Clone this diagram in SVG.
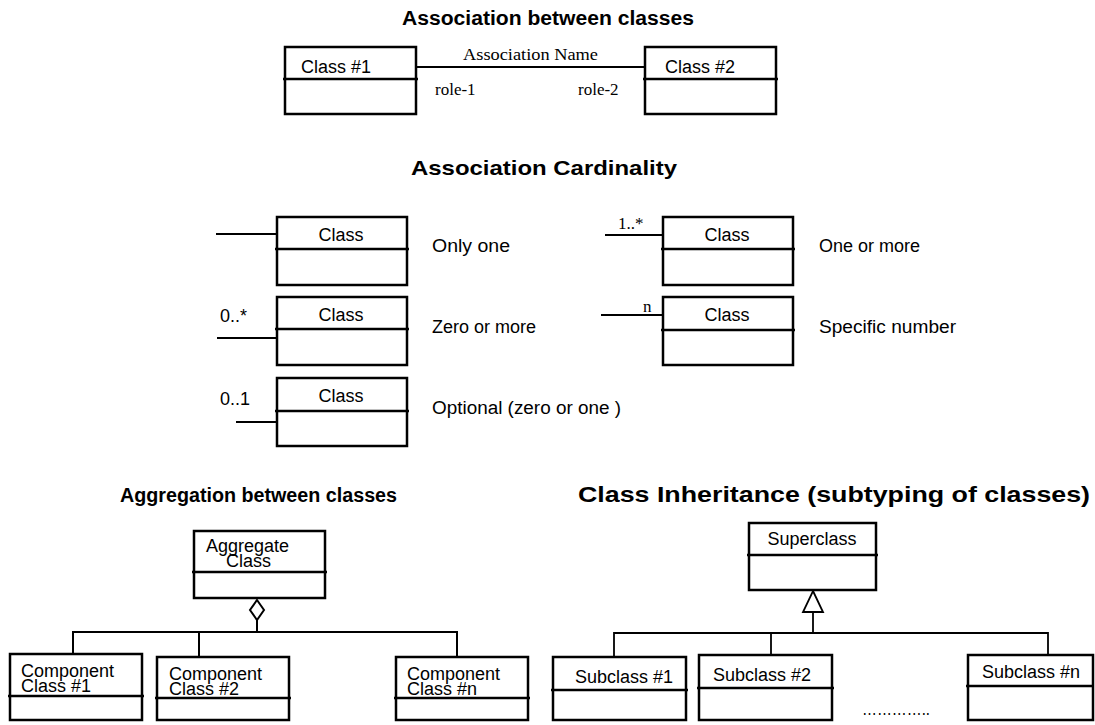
<svg xmlns="http://www.w3.org/2000/svg" width="1095" height="725" viewBox="0 0 1095 725">
<style>
.box{fill:#fff;stroke:#000;stroke-width:2.5}
.div{stroke:#000;stroke-width:2.5}
.ln{stroke:#000;stroke-width:2;fill:none}
.thin{stroke:#000;stroke-width:1.8;fill:none}
.t{font-family:"Liberation Sans",Arial,sans-serif;font-size:18px;fill:#000}
.s{font-family:"Liberation Serif","Times New Roman",serif;font-size:17px;fill:#000}
.h{font-family:"Liberation Sans",Arial,sans-serif;font-size:20px;font-weight:bold;fill:#000}
.m{text-anchor:middle}
</style>
<rect width="1095" height="725" fill="#fff"/>
<text class="h" x="402" y="25" textLength="292" lengthAdjust="spacingAndGlyphs">Association between classes</text>
<text class="h" x="411" y="175" style="font-size:21px" textLength="266" lengthAdjust="spacingAndGlyphs">Association Cardinality</text>
<text class="h" x="120" y="502" textLength="277" lengthAdjust="spacingAndGlyphs">Aggregation between classes</text>
<text class="h" x="578" y="502" style="font-size:22px" textLength="512" lengthAdjust="spacingAndGlyphs">Class Inheritance (subtyping of classes)</text>

<g id="connectors">
<line class="ln" x1="416" y1="67" x2="645" y2="67"/>
<line class="ln" x1="216" y1="234" x2="277" y2="234"/>
<line class="ln" x1="217" y1="338" x2="277" y2="338"/>
<line class="ln" x1="236" y1="422" x2="280" y2="422"/>
<line class="ln" x1="605" y1="235" x2="665" y2="235"/>
<line class="ln" x1="601" y1="315" x2="663" y2="315"/>
<polygon class="ln" points="257,600 264,610 257,620 250,610" fill="#fff"/>
<polyline class="ln" points="257,620 257,632"/>
<polyline class="ln" points="73,654 73,632 457,632 457,657"/>
<line class="ln" x1="199" y1="632" x2="199" y2="657"/>
<polygon class="thin" points="813,591 823,612 803,612" fill="#fff"/>
<line class="thin" x1="813" y1="612" x2="813" y2="633"/>
<polyline class="thin" points="614,657 614,633 1048,633 1048,655"/>
<line class="thin" x1="771" y1="633" x2="771" y2="655"/>
</g>

<g id="class1"><rect class="box" x="285" y="47" width="131" height="67"/><line class="div" x1="283" y1="79" x2="418" y2="79"/><text class="t" x="301" y="73">Class #1</text></g>
<g id="class2"><rect class="box" x="645" y="47" width="131" height="67"/><line class="div" x1="643" y1="79" x2="778" y2="79"/><text class="t" x="665" y="73">Class #2</text></g>
<text class="s" x="463" y="60" textLength="135" lengthAdjust="spacingAndGlyphs">Association Name</text>
<text class="s" x="435" y="95">role-1</text>
<text class="s" x="578" y="95">role-2</text>

<g id="card-one"><rect class="box" x="277" y="217" width="130" height="68"/><line class="div" x1="275" y1="249" x2="409" y2="249"/><text class="t m" x="341" y="241">Class</text></g>
<text class="t" x="432" y="252" textLength="78" lengthAdjust="spacingAndGlyphs">Only one</text>
<g id="card-zero-more"><rect class="box" x="277" y="297" width="130" height="68"/><line class="div" x1="275" y1="329" x2="409" y2="329"/><text class="t m" x="341" y="321">Class</text></g>
<text class="t" x="220" y="322">0..*</text>
<text class="t" x="432" y="333">Zero or more</text>
<g id="card-optional"><rect class="box" x="277" y="378" width="130" height="68"/><line class="div" x1="275" y1="411" x2="409" y2="411"/><text class="t m" x="341" y="402">Class</text></g>
<text class="t" x="220" y="405">0..1</text>
<text class="t" x="432" y="414" textLength="189" lengthAdjust="spacingAndGlyphs">Optional (zero or one )</text>
<g id="card-one-more"><rect class="box" x="663" y="217" width="130" height="68"/><line class="div" x1="661" y1="249" x2="795" y2="249"/><text class="t m" x="727" y="241">Class</text></g>
<text class="s" x="618" y="229">1..*</text>
<text class="t" x="819" y="252">One or more</text>
<g id="card-specific"><rect class="box" x="663" y="297" width="130" height="68"/><line class="div" x1="661" y1="330" x2="795" y2="330"/><text class="t m" x="727" y="321">Class</text></g>
<text class="s" x="643" y="312">n</text>
<text class="t" x="819" y="333" textLength="137" lengthAdjust="spacingAndGlyphs">Specific number</text>

<g id="aggregate"><rect class="box" x="194" y="531" width="131" height="67"/><line class="div" x1="192" y1="572" x2="327" y2="572"/><text class="t" x="206" y="552">Aggregate</text><text class="t" x="226" y="567">Class</text></g>
<g id="comp1"><rect class="box" x="10" y="654" width="132" height="66"/><line class="div" x1="8" y1="696" x2="144" y2="696"/><text class="t" x="21" y="677">Component</text><text class="t" x="21" y="692">Class #1</text></g>
<g id="comp2"><rect class="box" x="157" y="657" width="132" height="63"/><line class="div" x1="155" y1="698" x2="291" y2="698"/><text class="t" x="169" y="680">Component</text><text class="t" x="169" y="695">Class #2</text></g>
<g id="compn"><rect class="box" x="396" y="657" width="132" height="63"/><line class="div" x1="394" y1="698" x2="530" y2="698"/><text class="t" x="407" y="680">Component</text><text class="t" x="407" y="695">Class #n</text></g>

<g id="superclass"><rect class="box" x="749" y="523" width="127" height="67"/><line class="div" x1="747" y1="555" x2="878" y2="555"/><text class="t m" x="812" y="545">Superclass</text></g>
<g id="sub1"><rect class="box" x="553" y="657" width="133" height="63"/><line class="div" x1="551" y1="690" x2="688" y2="690"/><text class="t" x="575" y="683">Subclass #1</text></g>
<g id="sub2"><rect class="box" x="699" y="655" width="133" height="65"/><line class="div" x1="697" y1="688" x2="834" y2="688"/><text class="t" x="713" y="681">Subclass #2</text></g>
<g id="subn"><rect class="box" x="968" y="655" width="125" height="65"/><line class="div" x1="966" y1="686" x2="1093" y2="686"/><text class="t" x="982" y="678">Subclass #n</text></g>
<text class="t" x="862" y="715" textLength="68" lengthAdjust="spacingAndGlyphs">…………..</text>
</svg>
